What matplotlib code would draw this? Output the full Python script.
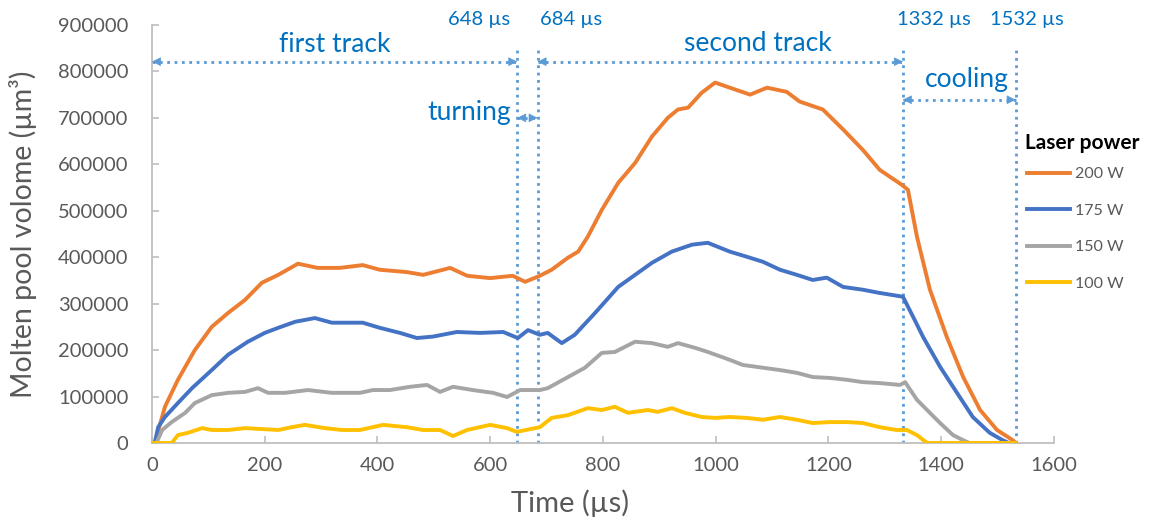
import matplotlib
matplotlib.use('Agg')
import matplotlib.pyplot as plt
import numpy as np

plt.rcParams['font.family'] = ['Lato', 'DejaVu Sans']

# time (us) and molten pool volume (um^3)
t_200 = [0, 5, 23, 46, 76, 106, 135, 165, 195, 224, 259, 294, 333, 374, 404, 452, 481,
         529, 559, 600, 640, 662, 688, 709, 738, 756, 773, 798, 827, 857, 887, 915, 933,
         951, 975, 999, 1025, 1061, 1091, 1126, 1149, 1190, 1226, 1261, 1291, 1330, 1341,
         1357, 1380, 1410, 1439, 1469, 1499, 1527, 1532]
v_200 = [0, 0, 78000, 136000, 200000, 250000, 280000, 308000, 345000, 362000, 386000,
         377000, 377000, 383000, 373000, 368000, 362000, 377000, 360000, 355000, 360000,
         347000, 360000, 373000, 399000, 412000, 444000, 502000, 560000, 603000, 660000,
         700000, 718000, 722000, 754000, 776000, 765000, 750000, 765000, 756000, 735000,
         718000, 675000, 631000, 588000, 556000, 545000, 444000, 330000, 228000, 142000,
         71000, 28000, 6000, 0]

t_175 = [0, 5, 11, 23, 46, 71, 106, 135, 170, 200, 224, 254, 289, 319, 374, 404, 440, 470,
         498, 541, 582, 623, 649, 667, 688, 702, 727, 750, 786, 827, 857, 887, 922, 958,
         986, 1025, 1055, 1084, 1114, 1144, 1172, 1197, 1226, 1261, 1291, 1332, 1350, 1368,
         1398, 1428, 1456, 1486, 1509, 1520, 1532]
v_175 = [0, 0, 34000, 56000, 86000, 118000, 157000, 190000, 218000, 237000, 248000, 261000,
         269000, 259000, 259000, 248000, 237000, 226000, 229000, 239000, 237000, 239000,
         226000, 243000, 233000, 237000, 215000, 233000, 280000, 336000, 362000, 388000,
         412000, 427000, 431000, 412000, 401000, 390000, 373000, 362000, 351000, 356000,
         336000, 330000, 323000, 315000, 272000, 228000, 164000, 108000, 56000, 22000,
         6000, 0, 0]

t_150 = [0, 8, 18, 35, 59, 76, 106, 135, 165, 188, 206, 236, 277, 319, 369, 392, 422, 458,
         488, 511, 534, 569, 605, 630, 653, 688, 702, 738, 768, 798, 821, 857, 887, 915,
         933, 963, 986, 1025, 1048, 1084, 1114, 1144, 1172, 1203, 1233, 1261, 1291, 1327,
         1336, 1357, 1375, 1398, 1421, 1439, 1450, 1532]
v_150 = [0, 0, 28000, 45000, 65000, 86000, 103000, 108000, 110000, 118000, 108000, 108000,
         114000, 108000, 108000, 114000, 114000, 121000, 125000, 110000, 121000, 114000,
         108000, 99000, 114000, 114000, 118000, 142000, 162000, 194000, 196000, 218000,
         215000, 207000, 215000, 205000, 196000, 179000, 168000, 162000, 157000, 151000,
         142000, 140000, 136000, 131000, 129000, 125000, 131000, 93000, 71000, 43000,
         17000, 6000, 0, 0]

t_100 = [0, 35, 46, 64, 89, 106, 135, 165, 195, 224, 248, 271, 307, 337, 369, 410, 452,
         481, 511, 534, 559, 600, 630, 647, 688, 709, 738, 773, 798, 821, 844, 880, 897,
         922, 945, 975, 999, 1025, 1055, 1084, 1114, 1144, 1172, 1203, 1233, 1261, 1291,
         1321, 1339, 1357, 1375, 1532]
v_100 = [0, 0, 17000, 22000, 32000, 28000, 28000, 32000, 30000, 28000, 34000, 39000,
         32000, 28000, 28000, 39000, 34000, 28000, 28000, 15000, 28000, 39000, 32000,
         24000, 34000, 54000, 60000, 75000, 71000, 78000, 65000, 71000, 67000, 75000,
         65000, 56000, 54000, 56000, 54000, 50000, 56000, 50000, 43000, 45000, 45000,
         43000, 34000, 28000, 28000, 17000, 0, 0]

series = [('200 W', t_200, v_200, '#ED7D31'),
          ('175 W', t_175, v_175, '#4472C4'),
          ('150 W', t_150, v_150, '#A5A5A5'),
          ('100 W', t_100, v_100, '#FFC000')]

# phase boundaries (us)
bounds = [648, 684, 1332, 1532]
bound_labels = ['648 µs', '684 µs', '1332 µs', '1532 µs']

ann_blue = '#0070C0'
line_blue = '#5B9BD5'
grey = '#595959'

fig = plt.figure(figsize=(11.53, 5.28), dpi=100)
ax = fig.add_axes([0.1318, 0.161, 0.7823, 0.7917])

for name, t, v, c in series:
    ax.plot(t, v, color=c, lw=2.8, label=name, solid_joinstyle='round', zorder=3)

ax.set_xlim(0, 1600)
ax.set_ylim(0, 900000)
ax.set_xticks(np.arange(0, 1601, 200))
ax.set_yticks(np.arange(0, 900001, 100000))
ax.yaxis.set_major_formatter(matplotlib.ticker.FuncFormatter(lambda v, p: f'{int(v)}'))

for s in ['top', 'right']:
    ax.spines[s].set_visible(False)
for s in ['left', 'bottom']:
    ax.spines[s].set_color('#BFBFBF')
    ax.spines[s].set_linewidth(1.3)
ax.tick_params(axis='both', direction='in', length=5, width=1.2, color='#BFBFBF',
               labelcolor=grey, labelsize=14.5)
ax.tick_params(axis='y', pad=17)
ax.tick_params(axis='x', pad=10)

ax.set_xlabel('Time (µs)', fontsize=21, color=grey)
ax.set_ylabel('Molten pool volome (µm³)', fontsize=20.5, color=grey)
ax.xaxis.set_label_coords(0.464, -0.11)
ax.yaxis.set_label_coords(-0.128, 0.5)

# vertical dotted boundaries with their time labels
label_x = [635, 688, 1321, 1486]
label_ha = ['right', 'left', 'left', 'left']
for b, lab, lx, ha in zip(bounds, bound_labels, label_x, label_ha):
    ax.plot([b, b], [0, 850000], ls=':', color=line_blue, lw=2, zorder=2, clip_on=False)
    ax.text(lx, 912000, lab, ha=ha, va='center', color=ann_blue, fontsize=14.5,
            clip_on=False)


def span_arrow(x0, x1, y):
    ax.plot([x0, x1], [y, y], ls=':', color=line_blue, lw=2, zorder=2, clip_on=False)
    for a, b in [(x0 + 14, x0), (x1 - 14, x1)]:
        ax.annotate('', xy=(b, y), xytext=(a, y),
                    arrowprops=dict(arrowstyle='-|>', color=line_blue, lw=0.5,
                                    mutation_scale=14, shrinkA=0, shrinkB=0))


span_arrow(0, 648, 821000)
span_arrow(684, 1332, 821000)
span_arrow(648, 684, 700000)
span_arrow(1332, 1532, 739000)

ax.text(325, 858000, 'first track', ha='center', va='center', color=ann_blue, fontsize=19)
ax.text(1075, 860000, 'second track', ha='center', va='center', color=ann_blue, fontsize=19)
ax.text(636, 711000, 'turning', ha='right', va='center', color=ann_blue, fontsize=19)
ax.text(1445, 782000, 'cooling', ha='center', va='center', color=ann_blue, fontsize=19)

# legend, title drawn separately so it sits close to the entries
fig.text(1025 / 1153, 1 - 143 / 528, 'Laser power', fontsize=15, fontweight='bold',
         ha='left', va='center', color='black')
leg = fig.legend(loc='upper left', bbox_to_anchor=(1027 / 1153, 1 - 167 / 528), frameon=False,
                 fontsize=11.5, handlelength=2.7, labelspacing=1.4,
                 handletextpad=0.3, borderaxespad=0, borderpad=0)
for txt in leg.get_texts():
    txt.set_color(grey)

fig.savefig('out.png', dpi=100)
